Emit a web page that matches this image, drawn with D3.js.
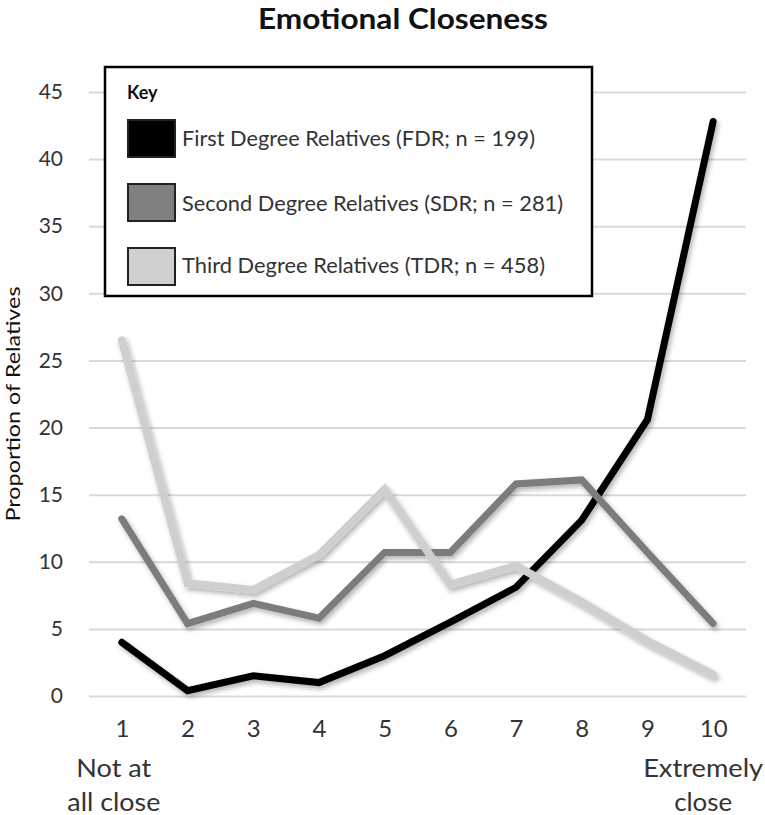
<!DOCTYPE html>
<html>
<head>
<meta charset="utf-8">
<script src="https://cdn.jsdelivr.net/npm/d3@7"></script>
<style>
  body { margin: 0; background: #fff; }
  svg { display: block; }
  text { font-family: Lato, "Open Sans", sans-serif; fill: #222; }
</style>
</head>
<body>
<svg id="chart" width="765" height="815"></svg>
<script>
// closeness ratings 1..10
var scores = [1, 2, 3, 4, 5, 6, 7, 8, 9, 10];
var fdr = [4.0, 0.4, 1.5, 1.0, 3.0, 5.5, 8.1, 13.1, 20.6, 42.8];
var sdr = [13.2, 5.4, 6.9, 5.8, 10.7, 10.7, 15.8, 16.1, 10.7, 5.4];
var tdr = [26.5, 8.4, 7.9, 10.5, 15.4, 8.3, 9.7, 7.0, 4.1, 1.6];
var yTicks = [0, 5, 10, 15, 20, 25, 30, 35, 40, 45];
var seriesNames = ["First Degree Relatives (FDR; n = 199)",
                   "Second Degree Relatives (SDR; n = 281)",
                   "Third Degree Relatives (TDR; n = 458)"];
var lineColors = ["#000000", "#7b7b7b", "#cfcfcf"];
var swatchColors = ["#000000", "#808080", "#d0d0d0"];

var svg = d3.select("#chart"),
	plotL = 89, plotR = 746, plotT = 92, plotB = 696;

var x = d3.scalePoint()
	.domain(scores)
	.range([plotL, plotR])
	.padding(0.5);

var y = d3.scaleLinear()
	.domain([0, 45])
	.range([plotB, plotT]);

// soft shadow under the lines
var filt = svg.append("defs").append("filter")
	.attr("id", "shadow")
	.attr("x", "-20%").attr("y", "-20%")
	.attr("width", "140%").attr("height", "140%");
filt.append("feDropShadow")
	.attr("dx", 2).attr("dy", 3)
	.attr("stdDeviation", 2.5)
	.attr("flood-color", "#000")
	.attr("flood-opacity", 0.3);

// title
svg.append("text")
	.attr("x", 403).attr("y", 29)
	.attr("text-anchor", "middle")
	.attr("font-size", 29)
	.attr("font-weight", "bold")
	.attr("textLength", 290)
	.attr("lengthAdjust", "spacingAndGlyphs")
	.style("fill", "#111")
	.text("Emotional Closeness");

// gridlines + y ticks
var yAxis = d3.axisLeft(y)
	.tickValues(yTicks)
	.tickSize(-(plotR - plotL))
	.tickPadding(26);

var gy = svg.append("g")
	.attr("transform", "translate(" + plotL + ",0)")
	.call(yAxis);
gy.select(".domain").remove();
gy.selectAll(".tick line")
	.attr("stroke", "#d9d9d9")
	.attr("stroke-width", 2);
gy.selectAll(".tick text")
	.attr("font-size", 21)
	.style("font-family", "Lato, 'Open Sans', sans-serif")
	.style("fill", "#333");

// x ticks
var xAxis = d3.axisBottom(x).tickSize(0).tickPadding(24);
var gx = svg.append("g")
	.attr("transform", "translate(0," + plotB + ")")
	.call(xAxis);
gx.select(".domain").remove();
gx.selectAll(".tick text")
	.attr("font-size", 24)
	.style("font-family", "Lato, 'Open Sans', sans-serif")
	.style("fill", "#333");

// end labels under 1 and 10
function endLabel(txt, cx, by, w) {
	svg.append("text")
		.attr("x", cx).attr("y", by)
		.attr("text-anchor", "middle")
		.attr("font-size", 25)
		.attr("textLength", w)
		.attr("lengthAdjust", "spacingAndGlyphs")
		.style("fill", "#333")
		.text(txt);
}
endLabel("Not at", x(1) - 8, 777, 75);
endLabel("all close", x(1) - 8, 811, 93);
endLabel("Extremely", x(10) - 10, 777, 120);
endLabel("close", x(10) - 10, 811, 58);

// y axis title
svg.append("text")
	.attr("transform", "translate(20,404) rotate(-90)")
	.attr("text-anchor", "middle")
	.attr("font-size", 20)
	.attr("textLength", 235)
	.attr("lengthAdjust", "spacingAndGlyphs")
	.style("fill", "#111")
	.text("Proportion of Relatives");

// lines
var line = d3.line()
	.x(function(d, i) { return x(scores[i]); })
	.y(function(d) { return y(d); });

var series = [fdr, sdr, tdr];
svg.append("g")
	.attr("filter", "url(#shadow)")
	.selectAll("path")
	.data(series)
	.enter().append("path")
		.attr("d", line)
		.attr("fill", "none")
		.attr("stroke", function(d, i) { return lineColors[i]; })
		.attr("stroke-width", function(d, i) { return i == 2 ? 8 : 7; })
		.attr("stroke-linejoin", "miter")
		.attr("stroke-linecap", "round");

// legend box
var lg = svg.append("g");
lg.append("rect")
	.attr("x", 105).attr("y", 67)
	.attr("width", 487).attr("height", 229)
	.attr("fill", "#fff")
	.attr("stroke", "#000")
	.attr("stroke-width", 2.5);
lg.append("text")
	.attr("x", 127).attr("y", 99)
	.attr("font-size", 18)
	.attr("font-weight", "bold")
	.style("fill", "#111")
	.text("Key");

var rowTop = [120, 184, 248],
	rowBase = [146, 211, 273],
	rowW = [353, 381, 363];
var item = lg.selectAll(".item")
	.data(seriesNames)
	.enter().append("g")
	.attr("class", "item");
item.append("rect")
	.attr("x", 128)
	.attr("y", function(d, i) { return rowTop[i]; })
	.attr("width", 47).attr("height", 37)
	.attr("fill", function(d, i) { return swatchColors[i]; })
	.attr("stroke", "#222")
	.attr("stroke-width", 2);
item.append("text")
	.attr("x", 182)
	.attr("y", function(d, i) { return rowBase[i]; })
	.attr("font-size", 21)
	.attr("textLength", function(d, i) { return rowW[i]; })
	.attr("lengthAdjust", "spacingAndGlyphs")
	.style("fill", "#333")
	.text(function(d) { return d; });
</script>
</body>
</html>
